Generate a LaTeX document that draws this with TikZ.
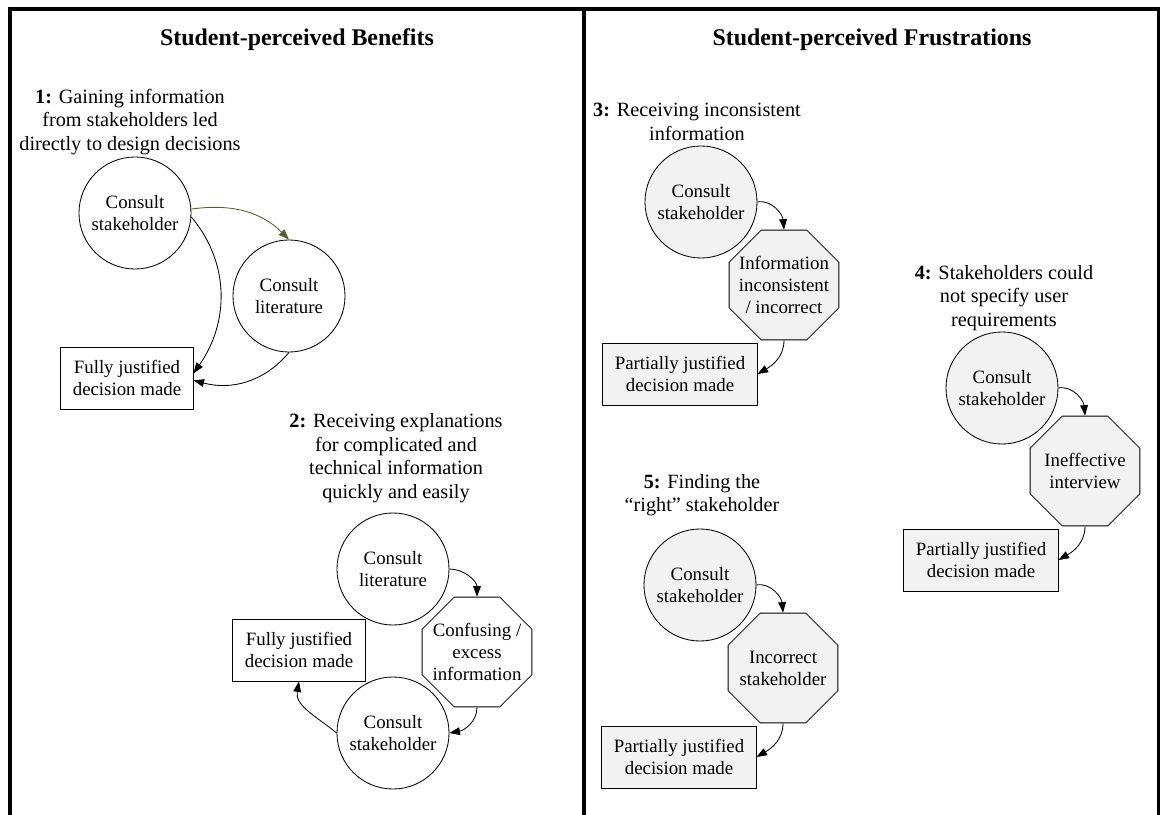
\documentclass[tikz,border=0pt]{standalone}
\usepackage{fontspec}
\setmainfont{Liberation Serif}
\usepackage{tikz}
\usetikzlibrary{arrows.meta,positioning,shapes.geometric}
\definecolor{leaf}{HTML}{4F6228}
\definecolor{paleg}{HTML}{F2F2F2}
\newcommand\nodetxt{\fontsize{13.4}{15.6}\selectfont}
\newcommand\labeltxt{\fontsize{14.4}{16.7}\selectfont}
\newcommand\titletxt{\fontsize{17}{20}\selectfont\bfseries}
\tikzset{act/.style={circle,draw,line width=.6pt,minimum size=2.8cm,inner sep=0pt,align=center,font=\nodetxt},stopsign/.style={regular polygon,regular polygon sides=8,draw,line width=.6pt,minimum size=2.97cm,inner sep=-18pt,align=center,font=\nodetxt},outcome/.style={rectangle,draw,line width=.6pt,minimum height=1.55cm,inner xsep=8.5pt,align=center,font=\nodetxt},lnk/.style={-{Triangle[length=7.5pt,width=5.5pt]},line width=.6pt}}

\begin{document}
\begin{tikzpicture}[x=0.025cm,y=0.025cm,panel/.style={line width=2.8pt},hd/.style={font=\titletxt},lbl/.style={align=center,font=\labeltxt}]
\useasboundingbox (0,0) rectangle (1160,-815);
\draw[panel] (10,-815)--(10,-9)--(1159,-9)--(1159,-815);
\draw[panel] (584,-9)--(584,-815);
\node[hd] (tb) at (297,-40) {Student-perceived Benefits};
\node[hd] (tf) at (872,-40) {Student-perceived Frustrations};
\node[lbl] (n1) at (130,-122) {\textbf{1:} Gaining information\\from stakeholders led\\directly to design decisions};
\node[act] (s1) at (135,-213) {Consult\\stakeholder};
\node[act] (l1) at (289,-296) {Consult\\literature};
\node[outcome] (b1) at (127,-378) {Fully justified\\decision made};
\draw[lnk,draw=leaf] (s1.4) to[out=8,in=135] (l1.north);
\draw[lnk] (s1.-4) to[out=-50,in=55] (b1.4);
\draw[lnk] (l1.south) to[out=-130,in=-15] (b1.-2);
\node[lbl] (n2) at (396,-458) {\textbf{2:} Receiving explanations\\for complicated and\\technical information\\quickly and easily};
\node[act] (l2) at (393,-569) {Consult\\literature};
\node[stopsign] (c2) at (477,-652) {Confusing /\\excess\\information};
\node[act] (s2) at (393,-733) {Consult\\stakeholder};
\node[outcome] (b2) at (299,-650) {Fully justified\\decision made};
\draw[lnk] (l2.east) to[out=0,in=90] (c2.north);
\draw[lnk] (c2.south) to[out=-90,in=10] (s2.east);
\draw[lnk] (s2.west) to[out=140,in=-100] (b2.south);
\node[lbl] (n3) at (697,-122) {\textbf{3:} Receiving inconsistent\\information};
\node[lbl] (n4) at (1004,-298) {\textbf{4:} Stakeholders could\\not specify user\\requirements};
\node[lbl] (n5) at (702,-495) {\textbf{5:} Finding the\\“right” stakeholder};
\foreach \x/\y/\k/\txt in {701/202/3/{Information\\inconsistent\\/ incorrect},1002/388/4/{Ineffective\\interview},700/585/5/{Incorrect\\stakeholder}}{
\node[act,fill=paleg] (s\k) at (\x,-\y) {Consult\\stakeholder};
\node[stopsign,fill=paleg] (c\k) at (\x+83,-\y-83) {\txt};
\node[outcome,fill=paleg] (b\k) at (\x-21,-\y-172) {Partially justified\\decision made};
\draw[lnk] (s\k.east) to[out=10,in=95] (c\k.north);
\draw[lnk] (c\k.south) to[out=-90,in=30] (b\k.east);}
\end{tikzpicture}
\end{document}
